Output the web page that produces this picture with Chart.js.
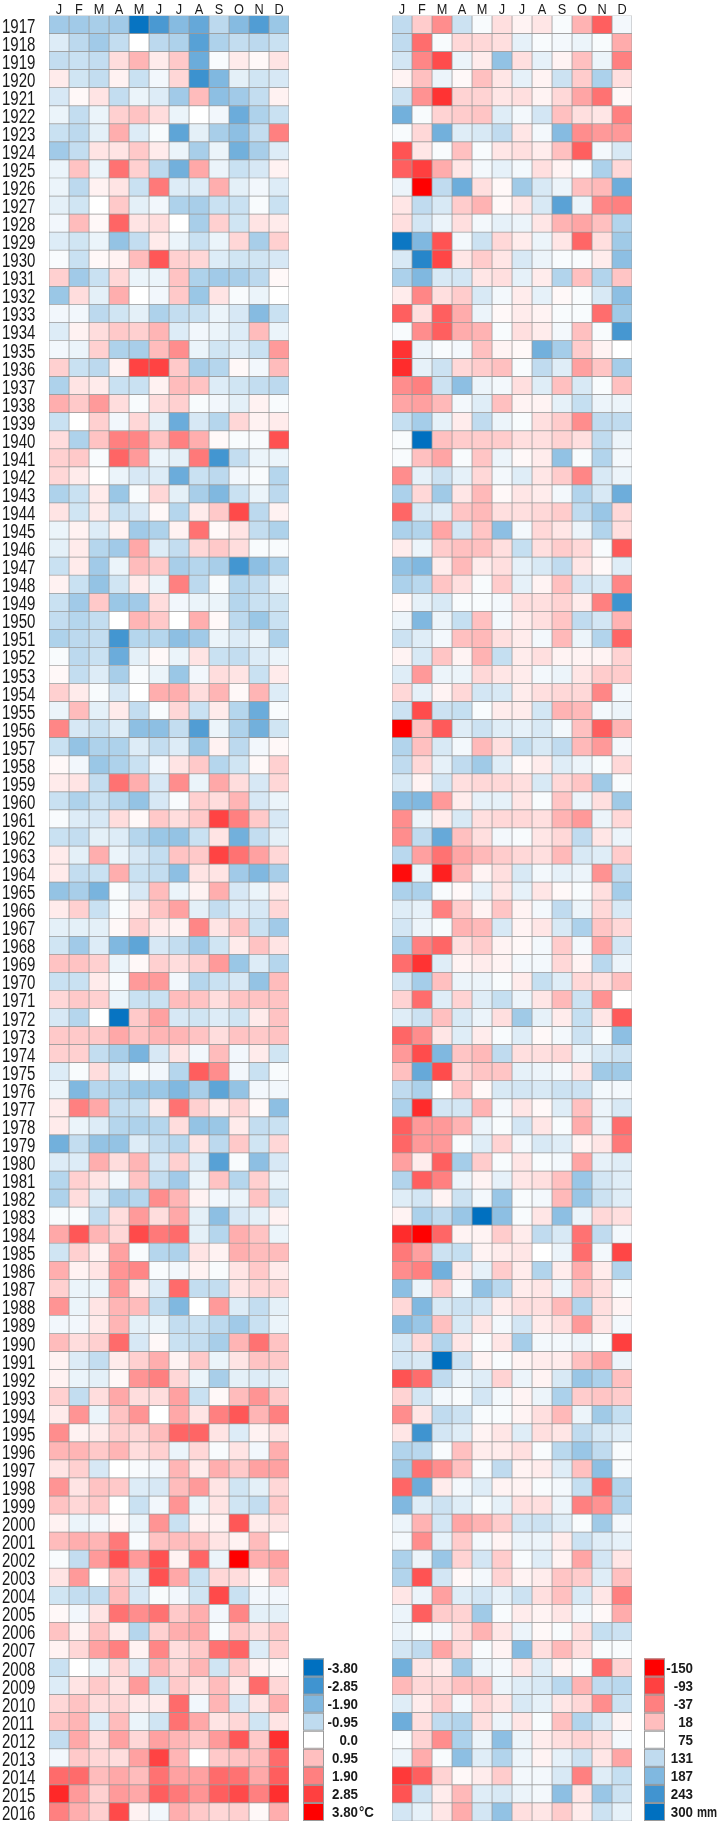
<!DOCTYPE html>
<html>
<head>
<meta charset="utf-8">
<title>Monthly anomalies 1917-2016</title>
<script src="https://cdn.jsdelivr.net/npm/chart.js@4.4.1/dist/chart.umd.min.js"></script>
<style>
  html, body { margin: 0; padding: 0; background: #fff; }
  #wrap { position: relative; width: 718px; height: 1825px; overflow: hidden; }
  #wrap canvas { position: absolute; top: 0; }
  #temp-chart { left: 0; }
  #precip-chart { left: 380px; }
</style>
</head>
<body>
<div id="wrap">
  <canvas id="temp-chart" width="380" height="1825"></canvas>
  <canvas id="precip-chart" width="338" height="1825"></canvas>
</div>
<script>
const months = ["J", "F", "M", "A", "M", "J", "J", "A", "S", "O", "N", "D"];
const years = [];
for (let y = 1917; y <= 2016; y++) years.push(String(y));

// Temperaturanomalie in °C, eine Zeile pro Jahr (J..D)
const tempAnomaly = [
  [-1.4,-1.4,-1.3,-1.4,-3.7,-2.7,-1.8,-2.3,-1.0,-1.8,-2.6,-1.5],
  [-0.5,-1.0,-1.4,-0.9,0.0,-1.0,-1.2,-2.5,-1.2,-0.9,-1.0,-0.8],
  [-0.9,-0.8,-0.9,0.5,1.1,0.3,0.8,-2.2,-0.1,0.3,0.1,0.4],
  [0.3,-0.7,-0.9,0.2,-0.8,-0.2,0.6,-2.9,-1.9,-0.4,-0.7,-0.6],
  [-0.6,0.1,0.4,-0.9,-0.3,-0.5,-1.4,1.0,-1.7,-1.4,-0.9,0.2],
  [-0.3,-0.9,-0.3,0.7,0.9,0.5,-0.3,0.0,-0.2,-2.2,-1.2,-0.8],
  [-0.8,-1.0,-0.4,1.2,-0.5,-0.1,-2.4,-0.4,-1.3,-1.7,-0.9,1.9],
  [-1.4,-0.9,0.4,0.4,0.8,0.3,-0.3,-1.3,-0.3,-2.1,-1.3,-0.5],
  [-0.3,0.9,-0.3,2.1,0.7,-1.0,-2.1,1.3,-0.3,-0.8,-0.6,0.2],
  [-0.3,-1.0,0.2,0.4,-0.8,2.0,-0.5,-0.5,1.2,-0.4,-0.2,-0.5],
  [-0.4,-0.7,0.0,0.8,-0.4,-0.2,-1.2,-1.3,-0.8,-0.8,-0.1,-0.8],
  [-0.2,1.0,0.1,2.3,0.4,0.5,0.0,-1.3,0.7,-0.7,0.4,0.3],
  [-0.5,-0.7,-0.3,-1.6,-0.9,0.3,-0.3,-0.8,-0.3,0.6,-1.3,0.7],
  [-0.1,-0.8,0.1,0.2,1.0,2.5,0.7,0.6,-0.5,-0.7,-0.7,-0.6],
  [0.7,-1.4,-0.8,0.6,-0.3,-0.3,0.9,-1.2,-1.4,-1.3,-1.0,0.1],
  [-1.5,0.5,-0.4,1.2,0.0,-0.2,0.8,-1.5,0.4,-0.1,-0.3,0.0],
  [-0.2,-0.2,-1.0,-0.7,-0.4,-1.2,-0.9,-0.8,-0.3,-0.6,-1.8,-0.8],
  [-0.5,0.2,0.5,0.8,0.7,1.1,-0.5,-0.2,-0.3,-0.5,1.0,-0.3],
  [-0.2,-0.3,0.7,-1.2,-1.3,1.0,1.7,-0.3,-0.7,-0.5,-0.8,1.5],
  [0.7,-0.8,-1.0,0.2,2.8,2.8,0.8,-1.3,-1.1,0.1,-0.2,1.0],
  [-1.2,0.4,0.3,-0.8,-0.8,0.2,1.0,0.9,-0.5,-0.7,-0.9,-1.0],
  [1.2,0.8,1.5,0.5,-0.1,0.5,0.7,-0.1,-0.2,-0.4,0.2,-0.1],
  [-0.8,0.0,0.7,-0.2,0.6,-0.4,-2.2,-0.6,-1.1,0.6,0.2,0.3],
  [0.5,-1.2,0.9,1.9,1.8,0.9,1.9,1.2,0.1,-0.1,-0.1,2.6],
  [0.7,0.8,-0.1,2.3,1.5,-0.3,-0.4,2.0,-2.8,-0.9,-0.3,-0.3],
  [0.6,0.3,0.0,-0.3,-0.6,-0.5,-2.2,-0.8,-1.0,-0.2,-0.1,-1.1],
  [-1.2,-0.8,0.3,-1.5,-0.1,0.6,-0.4,-1.3,-1.9,-0.8,-0.3,-1.0],
  [0.4,-0.7,0.3,-0.8,-0.6,0.1,-1.1,0.3,0.8,2.7,-1.0,0.2],
  [-0.3,0.2,-0.5,0.2,-1.4,-1.2,0.2,2.1,0.1,0.4,-0.9,-1.2],
  [-0.4,0.3,-1.1,-1.4,1.3,-0.5,-0.9,0.6,0.8,0.5,-0.1,-0.1],
  [-0.8,0.3,-1.4,-0.3,1.0,0.8,-1.3,-1.1,-1.3,-2.8,-1.7,-1.2],
  [0.2,-0.8,-1.6,-0.7,0.3,-0.3,1.9,-1.0,-0.1,-1.1,-0.9,-0.3],
  [-0.8,-1.4,0.8,-1.5,-1.4,0.5,-0.2,-0.3,-0.3,-1.1,-0.8,-0.7],
  [-0.9,-1.1,-0.9,0.0,1.1,0.8,0.0,1.2,0.1,-1.0,-1.5,-0.8],
  [-1.2,-1.0,-0.9,-2.8,-1.1,-1.1,-1.7,-1.4,-0.3,-0.5,-0.3,-1.2],
  [-0.1,-1.0,-0.8,-2.2,-0.4,0.1,-0.3,0.4,-0.8,-0.9,-0.5,-0.3],
  [0.1,-0.9,-0.5,-1.3,-0.1,-0.3,-1.5,-0.2,0.5,0.4,-0.8,0.3],
  [0.7,0.3,-0.1,-0.6,0.0,1.2,1.2,0.5,1.1,0.1,1.1,-0.5],
  [-0.3,1.0,-0.4,0.3,-0.9,-0.1,0.6,-0.8,0.3,-1.1,-2.2,-0.1],
  [1.8,-0.6,-0.8,-0.5,-1.7,-1.7,-0.9,-2.6,-0.3,-1.2,-2.1,-0.7],
  [-0.8,-1.6,-1.2,-1.2,-0.5,-0.9,-0.5,-1.5,0.2,-1.0,-0.2,0.1],
  [0.1,-0.2,-1.5,-1.2,-0.8,-0.2,0.4,0.8,-1.1,-0.7,0.1,0.7],
  [0.3,0.4,-0.9,2.1,1.2,-0.6,1.7,-0.3,1.3,0.5,-0.6,0.6],
  [-0.8,-1.2,-0.8,-1.1,-1.6,-0.6,-0.1,0.7,0.5,1.1,-0.6,-0.3],
  [-0.1,-0.5,-0.6,0.5,0.1,0.8,0.5,0.8,2.8,1.9,0.8,-0.6],
  [-0.8,-0.9,-0.4,-0.5,-1.1,-1.5,-1.6,-0.8,0.4,-2.1,-0.9,-0.4],
  [0.3,-0.4,1.2,-0.3,-0.6,-0.9,0.9,0.8,2.8,2.1,1.4,0.6],
  [0.3,-0.9,-0.8,1.2,-0.8,-0.9,-1.7,0.4,0.4,-1.4,-1.9,-1.3],
  [-1.6,-1.3,-2.0,-0.1,-0.6,1.0,-0.3,0.2,1.2,-0.6,-0.3,0.3],
  [0.3,0.7,-0.8,-0.1,0.3,0.9,1.4,-0.4,-0.9,-0.5,-0.6,0.6],
  [-0.4,-0.4,-0.4,0.1,0.7,0.3,0.2,1.8,0.4,0.9,-0.8,-1.4],
  [-0.7,-1.4,-0.5,-1.9,-2.4,-0.6,-0.9,-1.4,-0.7,0.3,0.9,0.4],
  [0.9,0.9,0.7,-0.3,0.1,0.7,0.5,0.7,1.5,-1.5,-0.5,-1.1],
  [-0.8,-0.8,0.3,-0.1,1.5,1.5,-0.2,-1.1,-0.8,-0.6,-1.6,1.0],
  [0.6,0.8,0.7,-0.3,-0.8,-0.8,1.0,0.9,0.5,0.9,0.9,0.9],
  [-0.6,-1.1,0.0,-3.7,0.8,1.4,-0.6,-0.7,-0.5,-0.7,0.3,0.9],
  [0.8,0.8,0.8,1.3,0.9,1.1,1.1,0.9,0.5,0.9,0.8,0.9],
  [0.7,0.7,-0.9,-1.3,-2.0,-0.6,0.4,-0.2,1.0,-0.2,0.3,-0.7],
  [-0.5,-0.1,0.5,-0.5,-0.1,-0.2,-1.1,2.4,1.7,-0.2,-0.8,-0.1],
  [-0.3,-1.9,-1.1,-1.2,-1.5,-1.5,-1.9,-1.3,-2.4,-1.6,-0.2,-0.2],
  [0.3,1.9,1.3,-0.9,-0.8,0.3,2.1,0.7,0.3,0.6,0.1,-1.7],
  [0.3,-0.3,-0.5,-1.1,-1.2,-1.1,0.5,-1.6,-1.5,0.3,-0.9,-0.8],
  [-2.1,-0.9,-1.6,-1.6,-0.5,-0.9,-1.1,0.4,-1.0,0.8,-0.7,0.6],
  [-0.5,-0.5,1.2,0.5,1.1,-0.6,0.7,-0.5,-2.5,-0.1,-1.7,-0.6],
  [-1.1,0.7,0.4,-0.2,0.9,-0.9,-1.4,-0.3,0.9,-1.1,0.7,-0.3],
  [-1.2,0.5,-0.5,-1.3,-1.1,1.7,1.1,0.2,-0.2,-0.3,0.9,-0.7],
  [-0.1,-0.1,-0.9,0.5,1.5,0.5,1.3,-0.4,-1.7,-0.6,-0.4,0.2],
  [1.3,2.5,1.1,0.6,2.7,2.0,2.2,-0.4,-1.1,1.2,0.9,-0.3],
  [-0.7,0.7,0.2,1.4,-0.1,-1.1,-1.2,0.4,0.2,1.2,1.0,1.0],
  [1.2,0.2,0.4,1.6,1.8,-0.1,-0.2,0.2,-0.1,0.4,0.8,0.3],
  [0.7,-0.3,-0.3,1.5,0.3,-0.5,2.2,-0.9,-0.9,0.4,0.6,0.6],
  [1.6,-0.3,0.4,1.1,1.0,-0.9,-1.9,0.0,1.5,-0.5,-0.9,-0.4],
  [-0.2,-0.2,0.3,1.1,-0.4,-0.3,-0.9,-0.8,-1.0,-1.4,-0.8,-0.3],
  [1.0,0.5,0.7,2.2,-0.6,0.1,-0.8,-0.9,-1.3,1.1,2.1,0.9],
  [0.2,-0.5,-0.9,0.3,0.7,1.2,0.2,0.8,-0.3,0.4,0.9,0.8],
  [0.2,-0.3,-0.4,0.1,1.6,1.9,0.6,-0.3,-1.3,-0.4,-0.5,-0.4],
  [0.7,-0.9,0.5,1.3,0.5,0.5,1.4,-0.8,0.1,1.0,1.6,0.8],
  [0.3,1.6,-0.3,0.9,1.6,0.0,1.3,0.4,1.9,2.5,1.1,1.9],
  [1.7,0.2,0.3,0.7,0.6,1.0,2.3,2.3,0.4,-0.5,0.2,0.4],
  [1.1,1.1,0.8,1.1,0.5,0.7,-0.3,0.6,-0.1,0.4,-0.2,1.2],
  [0.4,0.7,-0.6,0.0,-0.1,-0.2,1.1,0.3,1.2,0.8,1.4,1.4],
  [1.6,0.4,0.9,0.8,-0.5,-0.6,1.0,1.5,0.4,-0.7,-0.4,0.6],
  [0.9,0.6,0.8,0.0,-0.8,-0.2,1.6,-0.3,0.4,-0.7,-0.9,0.8],
  [0.2,-0.3,-0.2,0.1,-0.3,1.6,-0.8,0.2,0.2,2.5,0.3,0.4],
  [1.0,1.2,1.1,2.0,-0.1,0.9,1.0,0.9,0.4,0.2,1.0,0.0],
  [-0.1,-0.9,1.5,2.6,1.5,2.6,0.2,2.3,-0.3,3.8,1.2,1.4],
  [0.4,1.5,0.0,0.8,-0.5,2.6,1.3,-0.8,0.6,0.5,0.1,0.9],
  [-0.7,-0.9,-0.9,1.0,-0.6,-0.1,-0.2,-0.7,2.7,-0.8,-0.2,-0.2],
  [0.1,-0.2,0.4,2.1,1.7,2.1,0.8,1.2,-0.2,1.8,-0.4,-0.4],
  [0.9,0.2,0.9,0.3,-1.1,0.7,1.2,1.3,-0.1,0.8,0.5,0.8],
  [0.2,0.6,1.4,1.9,0.2,1.8,0.5,0.8,2.1,2.3,-0.5,0.7],
  [-0.8,0.0,-0.3,0.6,-0.5,1.1,0.6,1.1,-0.7,0.8,0.2,0.1],
  [-0.5,0.4,0.8,0.4,1.5,-0.7,0.8,0.4,1.0,0.3,2.2,0.6],
  [0.6,0.9,0.5,0.6,0.3,0.3,2.2,-0.2,1.1,-0.6,0.4,1.2],
  [0.9,1.1,-0.5,1.0,-0.3,-0.7,2.1,1.3,0.4,0.6,-0.7,0.4],
  [-0.9,1.3,0.5,1.4,0.6,1.4,1.1,0.8,1.5,2.5,0.8,3.1],
  [-0.2,0.8,0.6,0.5,1.4,2.8,1.1,0.0,0.8,0.9,1.0,2.2],
  [2.2,2.2,1.0,1.3,1.0,2.1,1.4,1.4,2.2,2.1,1.3,2.4],
  [3.2,1.5,0.7,1.5,1.3,2.4,2.0,1.6,2.4,2.7,1.9,3.1],
  [1.9,1.2,0.7,2.7,0.2,-0.2,1.2,0.8,0.6,0.7,0.1,1.2]
];

// Niederschlag in mm, eine Zeile pro Jahr (J..D)
const precipitation = [
  [131,30,-26,120,81,47,64,53,81,8,-66,86],
  [131,-54,81,41,41,47,97,81,86,92,81,2],
  [114,-32,-83,92,58,171,47,97,64,19,92,-37],
  [64,19,92,69,19,53,97,64,120,30,148,47],
  [120,-21,-105,36,36,53,47,64,41,-4,-49,69],
  [199,81,36,30,24,103,86,114,19,47,53,-37],
  [81,41,199,103,109,131,53,86,182,-26,-15,-15],
  [-77,53,81,19,81,53,47,58,19,-66,86,109],
  [-66,-94,2,53,86,97,86,47,64,81,148,41],
  [92,-150,131,204,47,69,159,109,92,19,13,204],
  [53,131,109,30,8,69,53,109,221,92,-32,-37],
  [47,114,92,47,86,97,92,53,8,-4,19,143],
  [289,187,-77,86,120,41,58,92,53,-60,47,159],
  [109,266,-88,53,30,53,109,92,81,81,58,176],
  [148,187,109,114,53,47,97,58,143,19,143,24],
  [58,-32,47,30,109,86,58,97,69,81,109,176],
  [-66,47,-66,2,92,69,58,64,81,81,-54,159],
  [81,-26,-66,2,8,81,47,58,86,19,81,238],
  [-105,92,81,86,19,64,69,199,154,30,64,75],
  [-111,97,120,41,30,19,81,131,103,-9,24,154],
  [-26,-37,120,176,92,86,47,103,19,109,81,19],
  [-4,-9,13,86,103,19,64,64,97,126,92,92],
  [126,154,97,58,131,92,81,47,30,-26,131,131],
  [81,300,19,30,30,30,47,47,36,47,131,92],
  [81,19,-4,81,24,92,69,58,171,81,143,86],
  [-26,97,120,97,41,86,103,53,30,-32,109,92],
  [148,41,159,53,13,69,53,58,86,143,109,204],
  [-60,109,103,24,13,47,47,41,30,131,165,41],
  [148,143,-4,114,24,176,86,41,53,92,143,47],
  [58,92,30,19,19,47,126,47,30,41,81,-71],
  [171,187,58,13,58,47,97,109,131,53,69,103],
  [148,137,24,47,81,30,97,64,19,114,109,-32],
  [69,97,109,81,81,86,47,47,36,58,-37,244],
  [92,187,92,126,19,86,58,47,24,131,114,8],
  [120,103,86,19,13,47,58,86,13,92,143,-60],
  [64,109,24,64,8,126,58,47,64,64,64,36],
  [103,-15,92,92,41,53,58,86,92,53,30,30],
  [41,97,64,41,114,109,58,47,41,41,-32,86],
  [120,-83,120,126,81,58,58,114,8,13,86,92],
  [-150,19,-71,103,120,103,97,109,86,19,-66,8],
  [143,19,109,86,13,47,126,109,131,13,-15,86],
  [131,41,97,131,159,103,69,58,103,92,81,41],
  [109,64,114,47,41,41,47,109,41,24,159,81],
  [182,187,-15,58,97,97,53,81,24,92,47,159],
  [-26,92,58,109,47,41,41,47,8,-15,92,41],
  [-26,131,210,19,47,86,81,53,41,131,53,92],
  [137,-9,-49,-4,13,30,41,47,13,109,103,30],
  [-139,92,-122,13,64,47,109,86,97,92,-21,131],
  [148,148,81,69,97,53,97,53,69,81,47,154],
  [103,97,-37,30,64,24,64,86,131,92,41,109],
  [114,92,81,8,13,109,64,53,109,148,24,41],
  [148,-37,-60,47,30,64,69,86,30,86,-4,114],
  [-54,-105,103,64,58,64,86,86,41,64,137,92],
  [114,154,19,92,92,81,58,126,103,41,47,19],
  [36,-54,103,36,103,126,92,53,13,120,-21,75],
  [103,120,19,109,92,47,159,97,58,126,53,-71],
  [-60,-26,53,103,58,81,103,69,86,120,81,176],
  [-15,-83,187,24,13,131,47,47,41,92,109,120],
  [19,210,-83,41,24,24,97,92,86,53,159,159],
  [131,148,75,24,69,109,114,109,120,120,86,86],
  [148,-111,114,114,8,86,53,69,103,19,92,109],
  [-66,-15,-15,8,92,81,114,53,81,2,92,-54],
  [-60,-15,-15,81,103,36,86,109,103,64,53,-43],
  [-9,58,-66,154,30,81,53,81,86,-4,97,103],
  [143,-66,-37,92,64,97,53,47,19,165,114,103],
  [103,114,64,120,86,165,81,86,13,165,120,103],
  [64,148,131,165,300,176,81,53,176,92,41,47],
  [-111,-150,-60,64,64,30,58,131,109,-49,131,86],
  [-43,-9,120,126,64,58,53,75,92,-54,86,-88],
  [-26,-37,199,58,97,30,58,143,58,2,58,143],
  [176,92,30,86,171,137,58,53,92,24,47,81],
  [41,187,109,120,114,58,47,47,13,143,47,64],
  [182,165,19,109,53,86,114,58,47,-15,53,86],
  [114,41,143,53,81,53,154,86,86,92,81,-94],
  [114,109,300,120,64,81,64,58,58,19,-4,92],
  [-77,-54,131,92,103,36,92,64,109,165,148,19],
  [36,114,86,81,114,86,64,92,148,30,24,30],
  [-26,53,131,120,81,81,64,47,13,92,159,126],
  [53,244,114,103,64,53,103,47,53,131,109,103],
  [143,137,81,19,58,58,47,81,137,165,131,81],
  [159,-49,-26,19,81,131,64,58,103,19,176,81],
  [-60,204,58,86,103,64,64,81,86,126,-60,143],
  [187,103,120,103,81,97,47,47,92,-37,-21,143],
  [92,8,114,-4,8,30,114,120,103,81,159,86],
  [86,-26,97,30,86,64,92,92,58,120,103,97],
  [148,92,165,36,114,30,81,103,64,-4,114,53],
  [143,-77,114,69,86,36,64,58,24,30,103,19],
  [53,92,-9,103,114,97,120,47,19,109,53,-37],
  [92,-66,30,36,159,81,58,64,53,86,69,2],
  [92,81,86,47,8,53,92,69,81,47,126,120],
  [114,131,-4,41,81,64,182,47,13,47,81,81],
  [199,53,58,159,92,86,53,103,64,81,-54,36],
  [13,41,41,19,19,92,103,109,137,8,131,137],
  [103,58,30,86,41,53,109,97,53,41,-26,120],
  [204,47,131,143,47,92,53,81,19,143,109,64],
  [81,36,-26,148,92,176,92,58,47,36,47,86],
  [92,2,81,176,103,143,92,64,97,120,53,-4],
  [-100,-66,36,69,58,30,86,86,109,-37,103,126],
  [-77,120,58,13,103,109,92,86,176,53,165,120],
  [114,97,53,2,114,171,47,53,30,58,120,97]
];

// Legendenstufen
const tempTicks = [-3.8, -2.85, -1.9, -0.95, 0, 0.95, 1.9, 2.85, 3.8];
const tempTickLabels = ["-3.80", "-2.85", "-1.90", "-0.95", "0.0", "0.95", "1.90", "2.85", "3.80"];
const precipTicks = [-150, -93, -37, 18, 75, 131, 187, 243, 300];
const precipTickLabels = ["-150", "-93", "-37", "18", "75", "131", "187", "243", "300"];

const RED = [255, 0, 0];
const BLUE = [0, 112, 192];
const GRID = "#9a9a9a";
const INK = "#1a1a1a";
const FONT = "'Liberation Sans', Arial, sans-serif";

function blend(target, t) {
  t = Math.max(0, Math.min(1, t));
  const c = target.map((v) => Math.round(255 + (v - 255) * t));
  return `rgb(${c[0]},${c[1]},${c[2]})`;
}

// warm = rot, kalt = blau
function tempColor(v) {
  return v >= 0 ? blend(RED, v / 3.8) : blend(BLUE, -v / 3.8);
}

// trocken = rot, nass = blau (Mitte bei 75 mm)
function precipColor(p) {
  const d = (p - 75) / 225;
  return d >= 0 ? blend(BLUE, d) : blend(RED, -d);
}

// schmale Schrift: horizontal gestauchter Text
function narrowText(ctx, text, x, y, squeeze, align) {
  ctx.save();
  ctx.translate(x, y);
  ctx.scale(squeeze, 1);
  ctx.textAlign = align;
  ctx.fillText(text, 0, 0);
  ctx.restore();
}

// Monate oben, Jahre links, Farblegende rechts (an den letzten 9 Zeilen)
const heatLabels = {
  id: "heatLabels",
  afterDraw(chart, args, opts) {
    const { ctx, chartArea } = chart;
    const xScale = chart.scales.x;
    const yScale = chart.scales.y;
    const half = (yScale.getPixelForValue(1) - yScale.getPixelForValue(0)) / 2;
    ctx.save();
    ctx.fillStyle = INK;
    ctx.textBaseline = "alphabetic";

    ctx.font = `14.5px ${FONT}`;
    months.forEach((m, i) => {
      narrowText(ctx, m, xScale.getPixelForValue(i + 0.5), chartArea.top - 2, 0.88, "center");
    });

    if (opts.showYears) {
      ctx.font = `19.5px ${FONT}`;
      years.forEach((yr, i) => {
        narrowText(ctx, yr, 2, yScale.getPixelForValue(i) + 8, 0.77, "left");
      });
    }

    const lg = opts.legend;
    const first = years.length - lg.values.length;
    lg.values.forEach((v, i) => {
      const cy = yScale.getPixelForValue(first + i);
      ctx.fillStyle = lg.color(v);
      ctx.fillRect(lg.x, cy - half, lg.w, half * 2);
      ctx.strokeStyle = GRID;
      ctx.lineWidth = 1;
      ctx.strokeRect(lg.x + 0.5, cy - half + 0.5, lg.w - 1, half * 2 - 1);

      ctx.fillStyle = INK;
      ctx.font = `bold 14.5px ${FONT}`;
      narrowText(ctx, lg.labels[i], lg.labelRight, cy + 5, 0.92, "right");
      if (i === lg.values.length - 1) {
        narrowText(ctx, lg.unit, lg.labelRight + lg.unitGap, cy + 5, lg.unitSqueeze, "left");
      }
    });
    ctx.restore();
  },
};

function heatmap(canvasId, matrix, colorFn, showYears, padding, legend) {
  const ctx = document.getElementById(canvasId).getContext("2d");
  const datasets = months.map((m, mi) => ({
    label: m,
    data: years.map(() => 1),
    backgroundColor: (c) => colorFn(matrix[c.dataIndex][mi]),
    borderColor: GRID,
    borderWidth: 0.7,
    borderSkipped: false,
    barPercentage: 1,
    categoryPercentage: 1,
  }));

  return new Chart(ctx, {
    type: "bar",
    data: { labels: years, datasets },
    plugins: [heatLabels],
    options: {
      indexAxis: "y",
      responsive: false,
      animation: false,
      events: [],
      layout: { padding },
      scales: {
        x: { type: "linear", stacked: true, min: 0, max: 12, display: false },
        y: { type: "category", stacked: true, display: false },
      },
      plugins: {
        legend: { display: false },
        tooltip: { enabled: false },
        heatLabels: { showYears, legend },
      },
    },
  });
}

heatmap("temp-chart", tempAnomaly, tempColor, true,
  { left: 49, right: 91, top: 15.5, bottom: 4 },
  { x: 303, w: 21, labelRight: 358, values: tempTicks, labels: tempTickLabels,
    unit: "°C", unitGap: 1, unitSqueeze: 0.92, color: tempColor });

heatmap("precip-chart", precipitation, precipColor, false,
  { left: 12, right: 86, top: 15.5, bottom: 4 },
  { x: 264, w: 21, labelRight: 313, values: precipTicks, labels: precipTickLabels,
    unit: "mm", unitGap: 4, unitSqueeze: 0.78, color: precipColor });
</script>
</body>
</html>
